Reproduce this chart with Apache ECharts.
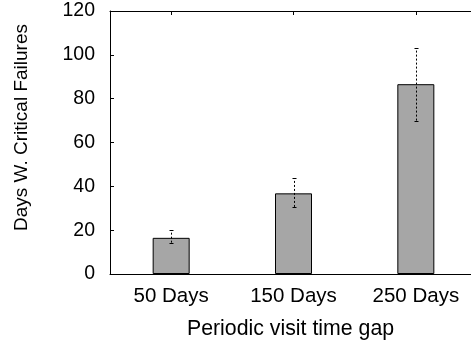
<!DOCTYPE html>
<html>
<head>
<meta charset="utf-8">
<script src="https://cdn.jsdelivr.net/npm/echarts@6/dist/echarts.min.js"></script>
<style>
  html, body { margin: 0; padding: 0; background: #fff; }
  #chart { width: 471px; height: 343px; }
</style>
</head>
<body>
<div id="chart"></div>
<script>
// Visit gaps and mean days with critical failures
const categories = ['50 Days', '150 Days', '250 Days'];
const meanDays = [16.5, 36.8, 86.6];
const errLow = [14.3, 30.6, 70];
const errHigh = [20, 43.8, 103];
const yTicks = [0, 20, 40, 60, 80, 100, 120];

const FONT = '"Liberation Sans", Arial, Helvetica, sans-serif';

const chart = echarts.init(document.getElementById('chart'), null, { renderer: 'canvas' });

const errorData = categories.map((c, i) => [i, errLow[i], errHigh[i]]);

chart.setOption({
  animation: false,
  backgroundColor: '#ffffff',
  grid: { left: 110, top: 11, right: -6, bottom: 69, containLabel: false, outerBoundsMode: 'none' },
  xAxis: [
    {
      type: 'category',
      data: categories,
      position: 'bottom',
      axisLine: { show: true, onZero: false, lineStyle: { color: '#000', width: 1 } },
      axisTick: { show: true, inside: true, alignWithLabel: true, length: 4, lineStyle: { color: '#000' } },
      axisLabel: { color: '#000', fontFamily: FONT, fontSize: 20.5, margin: 12 },
      name: 'Periodic visit time gap',
      nameLocation: 'middle',
      nameGap: 45,
      nameTextStyle: { color: '#000', fontFamily: FONT, fontSize: 21.3, padding: [0, 6, 0, 0] }
    },
    {
      type: 'category',
      data: categories,
      position: 'top',
      axisLine: { show: true, onZero: false, lineStyle: { color: '#000', width: 1 } },
      axisTick: { show: true, inside: true, alignWithLabel: true, length: 4, lineStyle: { color: '#000' } },
      axisLabel: { show: false }
    }
  ],
  yAxis: [
    {
      type: 'value',
      min: 0,
      max: 120,
      interval: 20,
      axisLine: { show: true, onZero: false, lineStyle: { color: '#000', width: 1 } },
      axisTick: { show: true, inside: true, length: 4, lineStyle: { color: '#000' } },
      splitLine: { show: false },
      axisLabel: {
        color: '#000', fontFamily: FONT, fontSize: 19.5, margin: 15,
        formatter: v => (yTicks.indexOf(v) >= 0 ? String(v) : '')
      },
      name: 'Days W. Critical Failures',
      nameLocation: 'middle',
      nameGap: 79,
      nameTextStyle: { color: '#000', fontFamily: FONT, fontSize: 19, padding: [0, 0, 0, 30] }
    }
  ],
  series: [
    {
      type: 'bar',
      data: meanDays,
      barWidth: 37,
      itemStyle: { color: '#a6a6a6', borderColor: '#000', borderWidth: 1 },
      z: 2
    },
    {
      type: 'custom',
      data: errorData,
      z: 5,
      renderItem: function (params, api) {
        const x = api.value(0);
        const lo = api.coord([x, api.value(1)]);
        const hi = api.coord([x, api.value(2)]);
        const cx = Math.round(lo[0]) + 0.5;
        const capW = 2;
        const style = { stroke: '#000', lineWidth: 1, lineDash: [2, 2] };
        const capStyle = { stroke: '#000', lineWidth: 1 };
        return {
          type: 'group',
          children: [
            { type: 'line', shape: { x1: cx, y1: lo[1], x2: cx, y2: hi[1] }, style: style },
            { type: 'line', shape: { x1: cx - capW, y1: Math.round(hi[1]) + 0.5, x2: cx + capW, y2: Math.round(hi[1]) + 0.5 }, style: capStyle },
            { type: 'line', shape: { x1: cx - capW, y1: Math.round(lo[1]) + 0.5, x2: cx + capW, y2: Math.round(lo[1]) + 0.5 }, style: capStyle }
          ]
        };
      }
    }
  ]
});
</script>
</body>
</html>
